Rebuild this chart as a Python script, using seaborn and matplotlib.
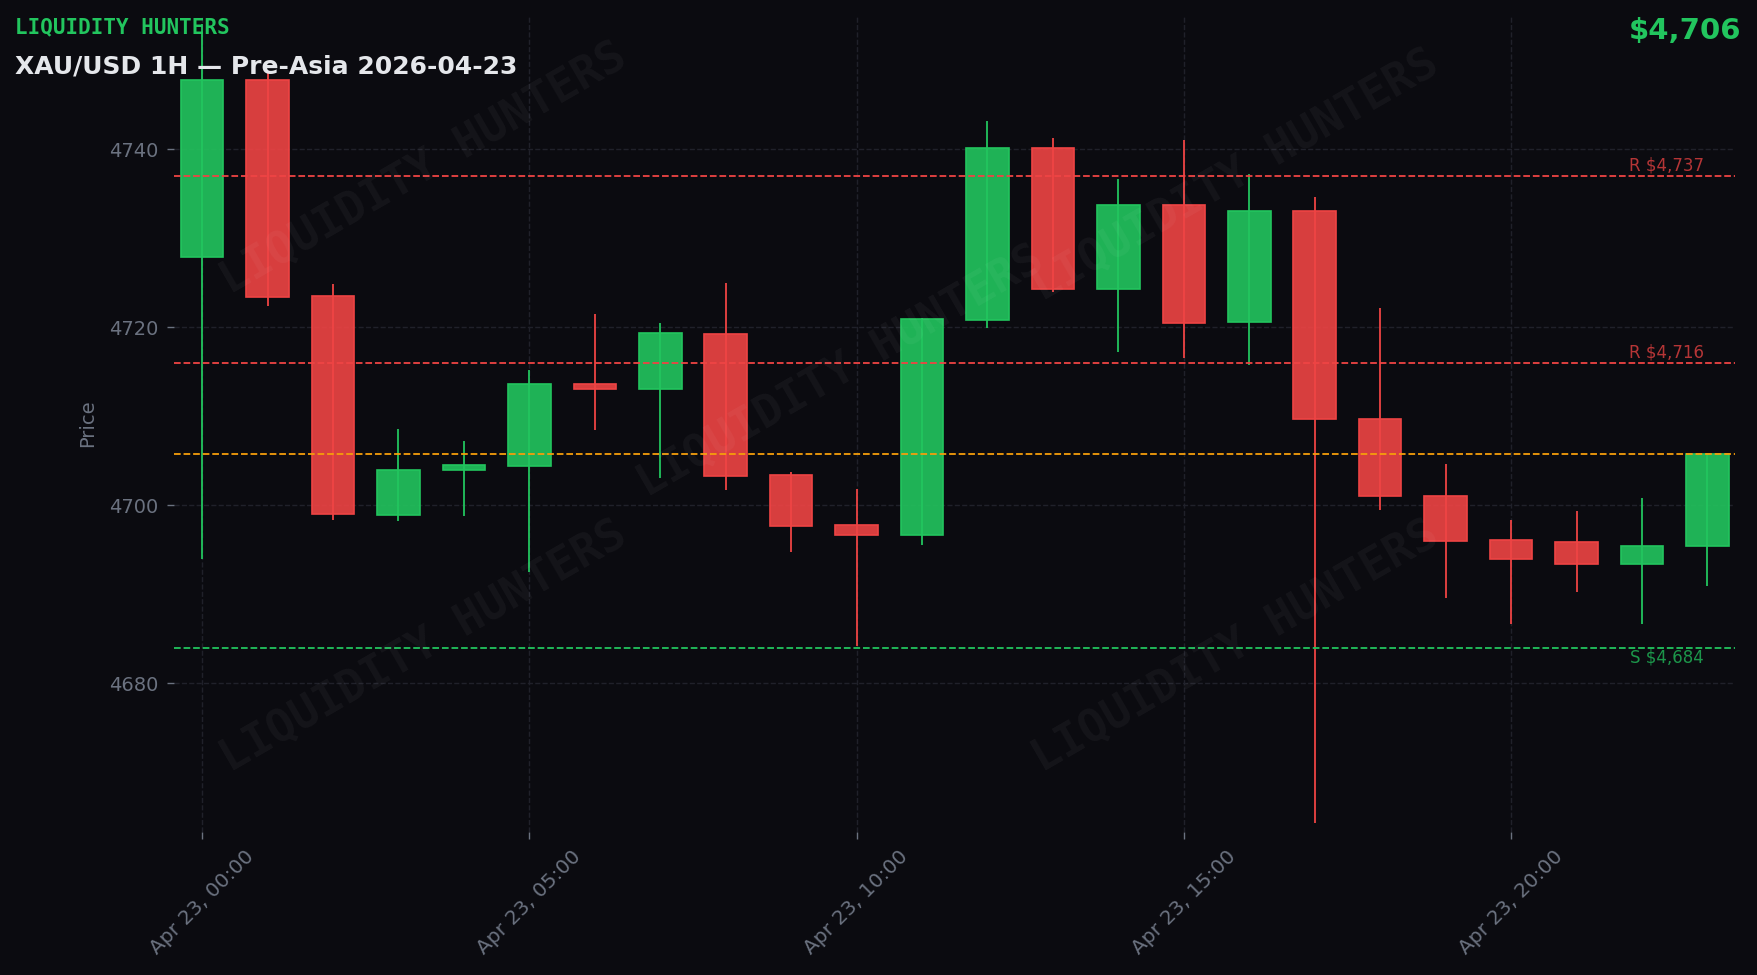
import matplotlib
matplotlib.use("Agg")
import matplotlib.pyplot as plt
import matplotlib.dates as mdates
import pandas as pd
import seaborn as sns

# XAU/USD 1H candles, 2026-04-23
hours = pd.date_range("2026-04-23 00:00", periods=24, freq="h")
opens = [4727.9, 4747.8, 4723.5, 4698.9, 4704.0, 4704.4, 4713.6, 4713.0,
         4719.2, 4703.4, 4697.8, 4696.7, 4720.8, 4740.1, 4724.3, 4733.7,
         4720.6, 4733.1, 4709.7, 4701.0, 4696.1, 4695.9, 4693.4, 4695.4]
highs = [4754.1, 4748.7, 4724.8, 4708.6, 4707.2, 4715.2, 4721.5, 4720.5,
         4725.0, 4703.7, 4701.8, 4721.0, 4743.1, 4741.2, 4736.6, 4741.0,
         4737.2, 4734.6, 4722.2, 4704.6, 4698.3, 4699.4, 4700.8, 4705.9]
lows = [4694.0, 4722.4, 4698.3, 4698.2, 4698.8, 4692.5, 4708.5, 4703.1,
        4701.7, 4694.7, 4684.2, 4695.5, 4719.9, 4723.9, 4717.2, 4716.5,
        4715.8, 4664.3, 4699.5, 4689.6, 4686.7, 4690.2, 4686.7, 4690.9]
closes = [4747.8, 4723.4, 4699.0, 4704.0, 4704.5, 4713.6, 4713.0, 4719.3,
          4703.3, 4697.7, 4696.7, 4720.9, 4740.1, 4724.3, 4733.7, 4720.5,
          4733.1, 4709.7, 4701.0, 4696.0, 4694.0, 4693.4, 4695.4, 4705.7]

resistances = [4737, 4716]
supports = [4684]
yticks = [4680, 4700, 4720, 4740]

title = "XAU/USD 1H \u2014 Pre-Asia 2026-04-23"
brand = "LIQUIDITY HUNTERS"

BG = "#0b0b10"
GREEN = "#22c55e"
RED = "#ef4444"
AMBER = "#f59e0b"
GREY = "#6b7280"

sns.set_theme(style="dark", rc={
    "figure.facecolor": BG,
    "axes.facecolor": BG,
    "savefig.facecolor": BG,
})
plt.rcParams["font.family"] = ["DejaVu Sans"]

fig = plt.figure(figsize=(17.58, 9.75), dpi=100)
ax = fig.add_axes([0.099, 0.1467, 0.8879, 0.8383])

df = pd.DataFrame({"time": hours, "open": opens, "high": highs,
                   "low": lows, "close": closes})
df["x"] = mdates.date2num(df["time"])
df["up"] = df["close"] >= df["open"]
df["color"] = df["up"].map({True: GREEN, False: RED})

# wicks
ax.vlines(df["x"], df["low"], df["high"], colors=df["color"], lw=1.3, zorder=2)
# bodies
width = 0.65 / 24
body_lo = df[["open", "close"]].min(axis=1)
body_h = (df["close"] - df["open"]).abs()
ax.bar(df["x"], body_h, bottom=body_lo, width=width, color=df["color"],
       alpha=0.9, edgecolor="none", zorder=3)
ax.bar(df["x"], body_h, bottom=body_lo, width=width, color="none",
       edgecolor=df["color"], lw=1.2, zorder=3)

# levels
for r in resistances:
    ax.axhline(r, color=RED, ls="--", lw=1.3, zorder=4)
    ax.text(0.98, r + 0.1, f"R ${r:,.0f}", transform=ax.get_yaxis_transform(),
            ha="right", va="bottom", color=RED, alpha=0.75, fontsize=12)
for s in supports:
    ax.axhline(s, color=GREEN, ls="--", lw=1.3, zorder=4)
    ax.text(0.98, s - 0.1, f"S ${s:,.0f}", transform=ax.get_yaxis_transform(),
            ha="right", va="top", color=GREEN, alpha=0.75, fontsize=12)
last = closes[-1]
ax.axhline(last, color=AMBER, ls="--", lw=1.3, zorder=4)

# axes styling
x0 = mdates.date2num(hours[0])
ax.set_xlim(x0 - 0.428 / 24, x0 + 23.42 / 24)
ax.set_ylim(4663.3, 4755.1)
ax.set_yticks(yticks)
ax.xaxis.set_major_locator(mdates.HourLocator(byhour=range(0, 24, 5)))
ax.xaxis.set_major_formatter(mdates.DateFormatter("%b %d, %H:%M"))
plt.setp(ax.get_xticklabels(), rotation=45, ha="center")
ax.tick_params(axis="both", colors=GREY, labelsize=14, length=5, width=1,
               bottom=True, left=True, pad=6)
ax.tick_params(axis="x", labelsize=14.5)
ax.grid(True, color="#20212a", ls="--", lw=1.0)
ax.set_axisbelow(True)
sns.despine(ax=ax, left=True, bottom=True)
ax.set_ylabel("Price", color=GREY, fontsize=14)
ax.yaxis.set_label_coords(-0.049, 0.5)
ax.set_xlabel("")

# header texts
fig.text(0.0085, 0.9658, brand, family="DejaVu Sans Mono", weight="bold",
         fontsize=15, color=GREEN, va="baseline", ha="left")
fig.text(0.0085, 0.9248, title, weight="bold", fontsize=18, color="#e5e7eb",
         va="baseline", ha="left")
fig.text(0.9903, 0.9597, f"${last:,.0f}", weight="bold", fontsize=21,
         color=GREEN, va="baseline", ha="right")

# watermarks
for wx, wy in [(0.241, 0.827), (0.478, 0.619), (0.703, 0.82),
               (0.241, 0.337), (0.703, 0.337)]:
    fig.text(wx, wy, brand, family="DejaVu Sans Mono", weight="bold",
             fontsize=32.5, color="white", alpha=0.045, rotation=30,
             ha="center", va="center", zorder=10)

fig.savefig("out.png", dpi=100)
